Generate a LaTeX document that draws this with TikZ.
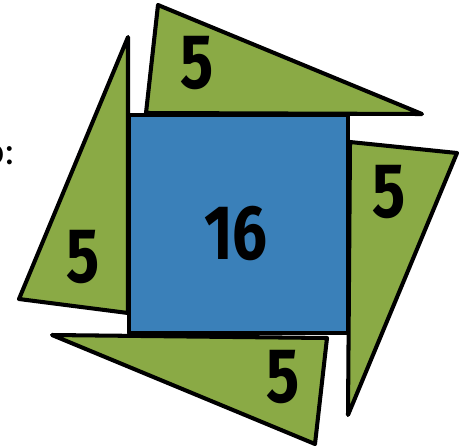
\documentclass[tikz,border=0pt]{standalone}
\usepackage{fontspec}
\setmainfont{Fira Sans}
\newfontfamily\notefont{Carlito}
\definecolor{leafgreen}{RGB}{138,170,69}
\definecolor{squareblue}{RGB}{58,128,185}

\begin{document}
\begin{tikzpicture}[x=0.02cm, y=-0.02cm, line join=round,
	piece/.style={draw=black, line width=2.3pt, fill=leafgreen},
	core/.style={draw=black, line width=2.3pt, fill=squareblue},
	num/.style={font=\fontsize{44}{44}\selectfont\bfseries, inner sep=0pt}]

	\useasboundingbox (0,0) rectangle (466,447);

	\node[font=\notefont\fontsize{23}{23}\selectfont, inner sep=0pt, anchor=base east] (cue) at (16,164) {o:};

	\draw[piece] (158,5) -- (422,114) -- (146,113) -- cycle;
	\draw[piece] (128,37) -- (128,313) -- (19,299) -- cycle;
	\draw[piece] (52,335) -- (327,338) -- (315,444) -- cycle;
	\draw[piece] (350,142) -- (457,153) -- (348,415) -- cycle;
	\draw[core] (129,115) rectangle (348,333);

	\node[num] (topval) at (197,63) {\scalebox{0.8}[1]{5}};
	\node[num] (leftval) at (83,257) {\scalebox{0.8}[1]{5}};
	\node[num] (lowval) at (283,377) {\scalebox{0.8}[1]{5}};
	\node[num] (rightval) at (389,192) {\scalebox{0.8}[1]{5}};
	\node[num] (area) at (236,233) {\scalebox{0.8}[1]{16}};
\end{tikzpicture}
\end{document}
